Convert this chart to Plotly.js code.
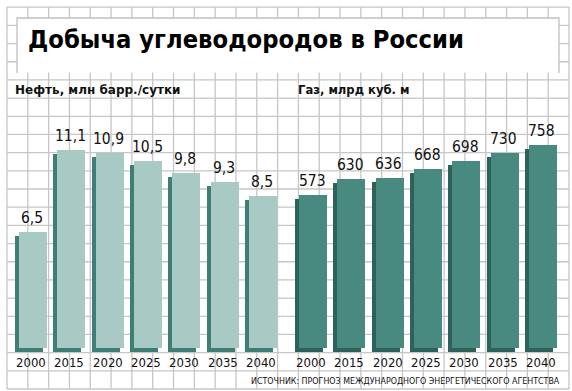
<!DOCTYPE html>
<html><head><meta charset="utf-8">
<script src="https://cdn.plot.ly/plotly-3.0.1.min.js"></script>
<style>html,body{margin:0;padding:0;background:#fff}</style>
</head><body><div id="chart" style="width:572px;height:391px"></div>
<script>
const years = ['2000','2015','2020','2025','2030','2035','2040'];
const oil = [6.5, 11.1, 10.9, 10.5, 9.8, 9.3, 8.5];
const gas = [573, 630, 636, 668, 698, 730, 758];
const oilLabels = ['6,5','11,1','10,9','10,5','9,8','9,3','8,5'];
const gasLabels = ['573','630','636','668','698','730','758'];
const titleText = 'Добыча углеводородов в России';
const oilTitle = 'Нефть, млн барр./сутки';
const gasTitle = 'Газ, млрд куб. м';
const sourceText = 'ИСТОЧНИК: ПРОГНОЗ МЕЖДУНАРОДНОГО ЭНЕРГЕТИЧЕСКОГО АГЕНТСТВА';

const W = 572, H = 391;
const px = x => x / W, py = y => 1 - y / H;
const basePx = 348, topPx = 106.9, botPx = 356.9;
const oilPx = 17.85, gasPx = 0.2675;
const oilRange = [-(botPx - basePx) / oilPx, (basePx - topPx) / oilPx];
const gasRange = [-(botPx - basePx) / gasPx, (basePx - topPx) / gasPx];
const step = 38.33;
const oilDom = [px(32 - step / 2), px(262 + step / 2)];
const gasDom = [px(312 - step / 2), px(542 + step / 2)];
const yDom = [py(botPx), py(topPx)];
const bw = 28 / step, sh = 4 / step, fo = 1 / step;

const NARROW = '"Liberation Sans Narrow", "DejaVu Sans Condensed", "Arial Narrow", "Liberation Sans", sans-serif';
const HEAD = '"DejaVu Sans", "Noto Sans", sans-serif';

function barPair(vals, xa, ya, pxPerUnit, front, side) {
  const shift = 4 / pxPerUnit;
  return [
    {type: 'bar', x: years, y: vals, base: vals.map(() => -shift), xaxis: xa, yaxis: ya,
     width: bw, offset: -bw / 2 + fo - sh, marker: {color: side, line: {width: 0}},
     hoverinfo: 'skip', showlegend: false},
    {type: 'bar', x: years, y: vals, xaxis: xa, yaxis: ya,
     width: bw, offset: -bw / 2 + fo, marker: {color: front, line: {width: 0}},
     hoverinfo: 'skip', showlegend: false}
  ];
}

const data = [
  ...barPair(oil, 'x', 'y', oilPx, '#a9c9c5', '#3f7e75'),
  ...barPair(gas, 'x2', 'y2', gasPx, '#488a80', '#2c625a')
];

const shapes = [];
const gridColor = '#c6c6c6';
for (let k = 0; k <= 27; k++) {
  const x = 7 + k * (562 / 27);
  shapes.push({type: 'line', xref: 'paper', yref: 'paper', x0: px(x), x1: px(x), y0: py(7), y1: py(389),
    line: {color: gridColor, width: 1.3}, layer: 'below'});
}
for (let k = 0; k <= 21; k++) {
  const y = 7.2 + k * (381.8 / 21);
  shapes.push({type: 'line', xref: 'paper', yref: 'paper', x0: px(7), x1: px(569), y0: py(y), y1: py(y),
    line: {color: gridColor, width: 1.3}, layer: 'below'});
}
shapes.push({type: 'rect', xref: 'paper', yref: 'paper', x0: px(17), x1: px(559), y0: py(18), y1: py(72.5),
  fillcolor: '#ffffff', line: {width: 0}, layer: 'below'});
shapes.push({type: 'path', xref: 'paper', yref: 'paper',
  path: `M ${px(17)} ${py(73)} L ${px(17)} ${py(18)} L ${px(559)} ${py(18)} L ${px(559)} ${py(73)}`,
  line: {color: '#c0c0c0', width: 1.3}, layer: 'below'});

const annotations = [];
years.forEach((yr, i) => {
  annotations.push({xref: 'x', yref: 'y', x: i, y: oil[i], text: oilLabels[i], showarrow: false,
    yanchor: 'bottom', yshift: 3, font: {family: NARROW, size: 15.5, color: '#111'}});
  annotations.push({xref: 'x2', yref: 'y2', x: i, y: gas[i], text: gasLabels[i], showarrow: false,
    yanchor: 'bottom', yshift: 3, font: {family: NARROW, size: 15.5, color: '#111'}});
  annotations.push({xref: 'x', yref: 'paper', x: i, y: py(362), text: yr, showarrow: false,
    yanchor: 'middle', xshift: -1, font: {family: NARROW, size: 13, color: '#111'}});
  annotations.push({xref: 'x2', yref: 'paper', x: i, y: py(362), text: yr, showarrow: false,
    yanchor: 'middle', xshift: -1, font: {family: NARROW, size: 13, color: '#111'}});
});
annotations.push({xref: 'paper', yref: 'paper', x: px(26), y: py(40), text: '<b>' + titleText + '</b>',
  showarrow: false, xanchor: 'left', yanchor: 'middle', font: {family: NARROW, size: 25.3, color: '#000'}});
annotations.push({xref: 'paper', yref: 'paper', x: px(13), y: py(90), text: '<b>' + oilTitle + '</b>',
  showarrow: false, xanchor: 'left', yanchor: 'middle', font: {family: HEAD, size: 12, color: '#111'}});
annotations.push({xref: 'paper', yref: 'paper', x: px(296), y: py(90), text: '<b>' + gasTitle + '</b>',
  showarrow: false, xanchor: 'left', yanchor: 'middle', font: {family: HEAD, size: 11.6, color: '#111'}});
annotations.push({xref: 'paper', yref: 'paper', x: px(562), y: py(381), text: sourceText,
  showarrow: false, xanchor: 'right', yanchor: 'middle', font: {family: NARROW, size: 8.8, color: '#111'}});

const axX = {type: 'category', showgrid: false, zeroline: false, showline: false, showticklabels: false, ticks: '', fixedrange: true};
const axY = {showgrid: false, zeroline: false, showline: false, showticklabels: false, ticks: '', fixedrange: true};

const layout = {
  width: W, height: H,
  margin: {l: 0, r: 0, t: 0, b: 0, pad: 0},
  paper_bgcolor: '#ffffff', plot_bgcolor: 'rgba(0,0,0,0)',
  showlegend: false, barmode: 'overlay', bargap: 0,
  xaxis: Object.assign({}, axX, {domain: oilDom, range: [-0.5, 6.5], anchor: 'y'}),
  yaxis: Object.assign({}, axY, {domain: yDom, range: oilRange, anchor: 'x'}),
  xaxis2: Object.assign({}, axX, {domain: gasDom, range: [-0.5, 6.5], anchor: 'y2'}),
  yaxis2: Object.assign({}, axY, {domain: yDom, range: gasRange, anchor: 'x2'}),
  shapes: shapes,
  annotations: annotations
};

Plotly.newPlot('chart', data, layout, {displayModeBar: false, staticPlot: true});
</script>
</body></html>
